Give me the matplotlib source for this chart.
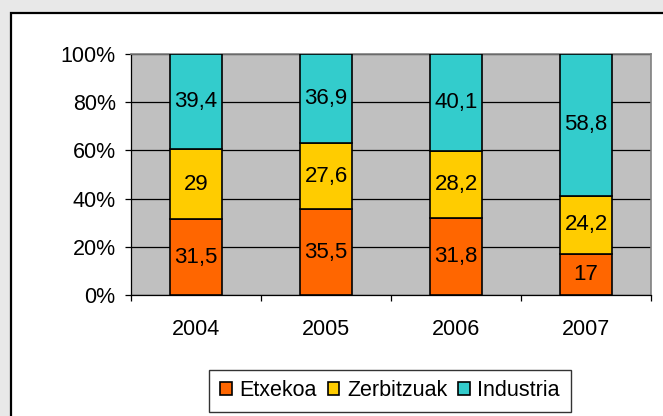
import matplotlib
matplotlib.use("Agg")
import matplotlib.pyplot as plt
from matplotlib.patches import Rectangle
from matplotlib.ticker import FixedLocator, PercentFormatter
import numpy as np

plt.rcParams["font.family"] = ["Liberation Sans", "DejaVu Sans"]

years = ["2004", "2005", "2006", "2007"]
series_names = ["Etxekoa", "Zerbitzuak", "Industria"]
etxekoa = [31.5, 35.5, 31.8, 17]
zerbitzuak = [29, 27.6, 28.2, 24.2]
industria = [39.4, 36.9, 40.1, 58.8]
colors = ["#FF6600", "#FFCC00", "#33CCCC"]

FS = 15.5


def fmt(v):
    s = f"{v:g}"
    return s.replace(".", ",")


fig = plt.figure(figsize=(6.63, 4.16), dpi=100, facecolor="#E8E8E8")
# white chart area with black frame (cut at right/bottom like the original)
frame = Rectangle((11 / 663, -0.05), 1.0, 1.05 - 13 / 416,
                  transform=fig.transFigure, facecolor="white",
                  edgecolor="black", linewidth=1.6, zorder=-1)
fig.patches.append(frame)

ax = fig.add_axes([131 / 663, 1 - 295 / 416, 520 / 663, 241 / 416])
ax.set_zorder(2)
ax.set_facecolor("#C0C0C0")

data = np.array([etxekoa, zerbitzuak, industria], dtype=float)
totals = data.sum(axis=0)
shares = data / totals * 100
x = np.arange(len(years))
bottom = np.zeros(len(years))
for name, vals, share, color in zip(series_names, data, shares, colors):
    bars = ax.bar(x, share, bottom=bottom, width=0.4, color=color,
                  edgecolor="black", linewidth=1.2, label=name, zorder=3)
    ax.bar_label(bars, labels=[fmt(v) for v in vals], label_type="center",
                 fontsize=FS + 0.5, color="black")
    bottom += share

ax.set_xlim(-0.5, len(years) - 0.5)
ax.set_ylim(0, 100)
ax.yaxis.set_major_locator(FixedLocator([0, 20, 40, 60, 80, 100]))
ax.yaxis.set_major_formatter(PercentFormatter(decimals=0))
ax.grid(axis="y", color="black", linewidth=0.9, zorder=1)
ax.set_axisbelow(True)

ax.set_xticks(x, years)
ax.set_xticks(np.arange(-0.5, len(years)), minor=True)
ax.tick_params(axis="x", which="major", length=0, pad=17, labelsize=FS)
ax.tick_params(axis="x", which="minor", length=4, direction="out", width=0.9)
ax.tick_params(axis="y", length=4, direction="out", width=0.9, labelsize=FS, pad=7)

for side in ["top", "right"]:
    ax.spines[side].set_color("#808080")
    ax.spines[side].set_linewidth(1.2)
ax.spines["left"].set_color("black")
ax.spines["bottom"].set_color("black")
ax.spines["left"].set_linewidth(0.9)
ax.spines["bottom"].set_linewidth(0.9)

leg = fig.legend(loc="center", bbox_to_anchor=(390 / 663, 1 - 391 / 416), ncol=3,
                 frameon=True, fancybox=False, edgecolor="black", fontsize=FS,
                 handlelength=0.55, handleheight=0.55, handletextpad=0.35,
                 columnspacing=0.5, borderpad=0.5)
leg.get_frame().set_linewidth(1.0)
leg.set_zorder(3)

fig.savefig("out.png", dpi=100, facecolor=fig.get_facecolor())
